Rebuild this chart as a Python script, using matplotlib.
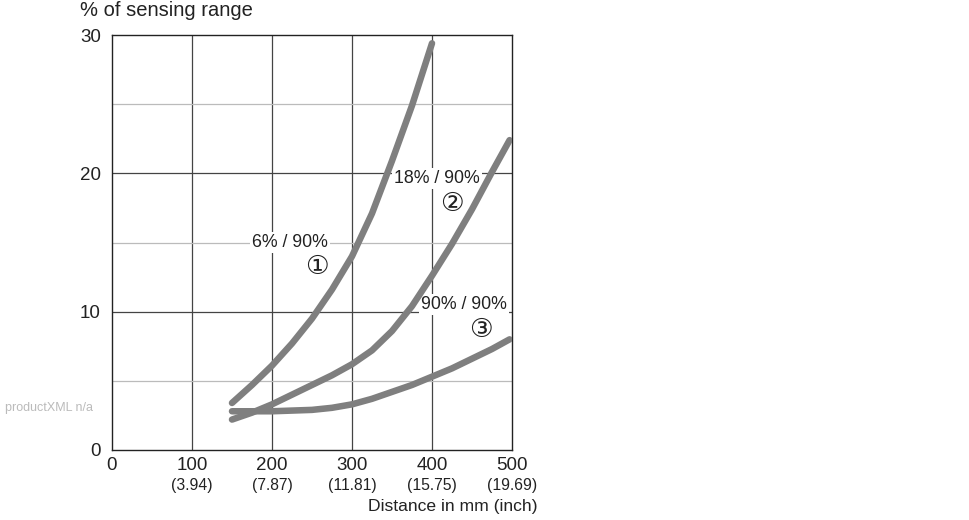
import matplotlib
matplotlib.use("Agg")
from matplotlib import pyplot as plt

# distance in mm and % of sensing range
dist_1 = [150, 175, 200, 225, 250, 275, 300, 325, 350, 375, 400]
curve_1 = [3.4, 4.7, 6.1, 7.7, 9.5, 11.6, 14.0, 17.1, 20.9, 24.9, 29.4]

dist_2 = [150, 175, 200, 225, 250, 275, 300, 325, 350, 375, 400, 425, 450, 475, 497]
curve_2 = [2.2, 2.7, 3.3, 4.0, 4.7, 5.4, 6.2, 7.2, 8.6, 10.4, 12.6, 14.9, 17.4, 20.1, 22.4]

dist_3 = [150, 175, 200, 225, 250, 275, 300, 325, 350, 375, 400, 425, 450, 475, 497]
curve_3 = [2.8, 2.8, 2.8, 2.85, 2.9, 3.05, 3.3, 3.7, 4.2, 4.7, 5.3, 5.9, 6.6, 7.3, 8.0]

x_ticks = [0, 100, 200, 300, 400, 500]
x_inch = ["", "(3.94)", "(7.87)", "(11.81)", "(15.75)", "(19.69)"]
y_ticks = [0, 10, 20, 30]
y_minor = [5, 15, 25]

labels = ["6% / 90%", "18% / 90%", "90% / 90%"]
markers = ["\u2460", "\u2461", "\u2462"]
label_pos = [(222, 15.0), (406, 19.6), (440, 10.5)]
marker_pos = [(256, 13.2), (425, 17.8), (461, 8.7)]

plt.rcParams['font.family'] = ['Liberation Sans', 'DejaVu Sans', 'Noto Sans CJK JP']

fig = plt.figure(figsize=(9.7, 5.2), dpi=100)
ax = fig.add_axes([112 / 970, 70 / 520, 400 / 970, 415 / 520])
ax.set_xlim(0, 500)
ax.set_ylim(0, 30)

# grid
for x in x_ticks[1:-1]:
    ax.axvline(x, color='#444444', lw=0.9, zorder=1)
for y in y_ticks[1:-1]:
    ax.axhline(y, color='#444444', lw=0.9, zorder=1)
for y in y_minor:
    ax.axhline(y, color='#bbbbbb', lw=0.9, zorder=1)

line_kw = dict(color='#7f7f7f', lw=4.7, solid_capstyle='round',
               solid_joinstyle='round', zorder=3)
ax.plot(dist_1, curve_1, **line_kw)
ax.plot(dist_2, curve_2, **line_kw)
ax.plot(dist_3, curve_3, **line_kw)

for txt, (x, y) in zip(labels, label_pos):
    ax.text(x, y, txt, ha='center', va='center', fontsize=12.8, color='#222222', zorder=2,
            bbox=dict(facecolor='white', edgecolor='none', pad=1.5))
for txt, (x, y) in zip(markers, marker_pos):
    ax.text(x, y, txt, ha='center', va='center', fontsize=19, color='#222222', zorder=2,
            family=['DejaVu Sans', 'Noto Sans CJK JP'])

for s in ax.spines.values():
    s.set_color('#222222')
    s.set_linewidth(1.0)

ax.set_xticks(x_ticks)
ax.set_xticklabels([])
ax.set_yticks(y_ticks)
ax.set_yticklabels([str(v) for v in y_ticks], fontsize=13.5, color='#222222')
ax.tick_params(length=0, pad=8)

for x, inch in zip(x_ticks, x_inch):
    ax.text(x, -1.15, str(x), ha='center', va='center', fontsize=13.5, color='#222222',
            clip_on=False)
    ax.text(x, -2.6, inch, ha='center', va='center', fontsize=11.3, color='#222222',
            clip_on=False)

fig.text(538 / 970, 1 - 507 / 520, "Distance in mm (inch)", ha='right', va='center',
         fontsize=12.6, color='#222222')
fig.text(80 / 970, 1 - 10 / 520, "% of sensing range", ha='left', va='center',
         fontsize=14.5, color='#222222')
fig.text(5 / 970, 1 - 408 / 520, "productXML n/a", ha='left', va='center',
         fontsize=9, color='#bbbbbb')

fig.savefig("out.png", dpi=100)
